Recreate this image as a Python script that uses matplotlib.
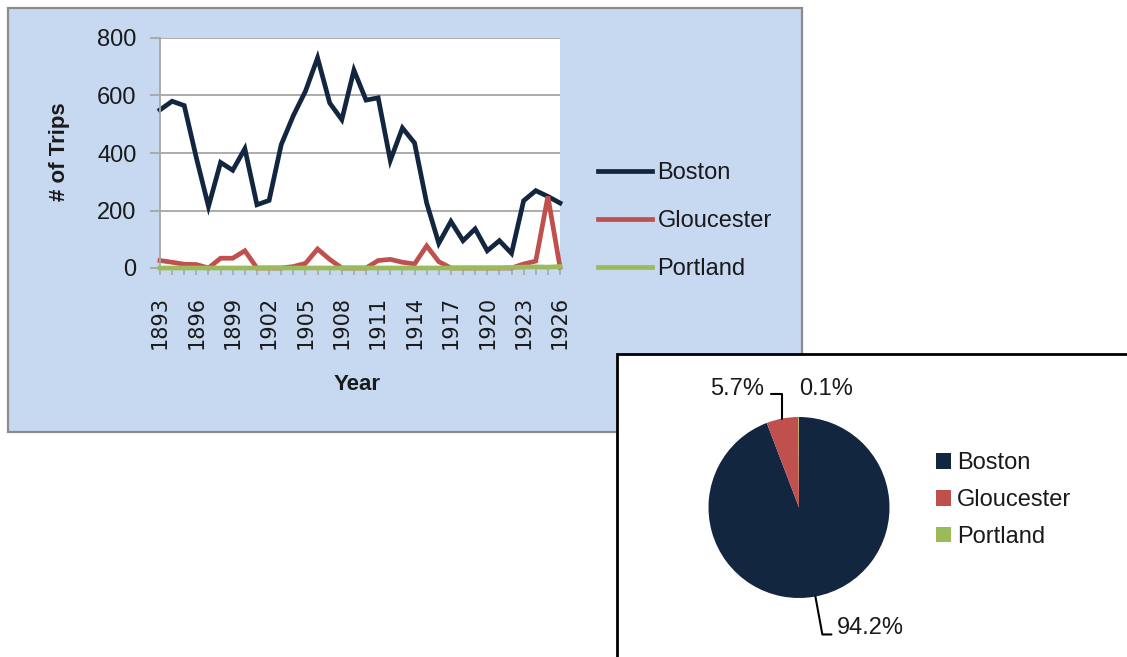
import numpy as np
import matplotlib.pyplot as plt
from matplotlib.patches import Rectangle, Patch

W, H = 1127, 657

years = list(range(1893, 1927))
boston = [550, 580, 565, 383, 214, 367, 340, 415, 220, 235, 429, 530, 615, 731, 574, 516, 688,
          584, 592, 374, 487, 435, 226, 86, 162, 95, 136, 60, 95, 51, 234, 269, 249, 226]
gloucester = [26, 20, 13, 12, 0, 34, 34, 60, 0, 0, 0, 5, 16, 66, 30, 0, 0,
              0, 26, 30, 20, 14, 77, 22, 0, 0, 0, 0, 0, 0, 14, 24, 249, 3]
portland = [0, 0, 0, 0, 0, 0, 0, 0, 0, 0, 0, 0, 0, 0, 0, 0, 0,
            0, 0, 0, 0, 0, 0, 0, 0, 0, 0, 0, 0, 2, 3, 4, 3, 5]
year_ticks = years[::3]

ports = ["Boston", "Gloucester", "Portland"]
share = [94.2, 5.7, 0.1]
colors = ["#12263F", "#C0504D", "#9BBB59"]

FONT = "Liberation Sans"
TXT = "#1a1a1a"


def box(x0, y0, x1, y1):
    # pixel box (top-left origin) -> figure fraction [left, bottom, width, height]
    return [x0 / W, 1 - y1 / H, (x1 - x0) / W, (y1 - y0) / H]


fig = plt.figure(figsize=(W / 100, H / 100), dpi=100)
fig.patch.set_facecolor("white")

# blue panel behind the line chart
b = box(8, 8, 802, 432)
fig.patches.append(Rectangle((b[0], b[1]), b[2], b[3], transform=fig.transFigure,
                             fc="#C6D9F1", ec="#8C8C8C", lw=1.6, zorder=-5))

ax = fig.add_axes(box(160, 38, 560, 268))
for i, (s, c) in enumerate(zip([boston, gloucester, portland], colors)):
    ax.plot(years, s, color=c, lw=3.4, clip_on=False, solid_joinstyle="miter", zorder=2 + i * 0.3)
ax.set_xlim(1893, 1926)
ax.set_ylim(0, 800)
ax.set_yticks([0, 200, 400, 600, 800])
ax.yaxis.grid(True, color="#A6A6A6", lw=1.3)
ax.set_axisbelow(True)
for sp in ["top", "right"]:
    ax.spines[sp].set_visible(False)
ax.spines["left"].set_color("#A6A6A6")
ax.spines["bottom"].set_color("#A6A6A6")
ax.spines["left"].set_linewidth(1.3)
ax.spines["bottom"].set_zorder(1.5)
ax.tick_params(axis="y", length=7, width=1.3, color="#A6A6A6", pad=10,
               labelsize=17, labelcolor=TXT)
for t in ax.get_yticklabels():
    t.set_fontfamily(FONT)
ax.set_xticks(years, minor=True)
ax.set_xticks(year_ticks)
ax.set_xticklabels([str(y) for y in year_ticks], rotation=90, fontsize=15,
                   color=TXT, family="DejaVu Sans")
ax.tick_params(axis="x", which="both", length=5, width=1.1, color="#A6A6A6", pad=15)
ax.set_ylabel("# of Trips", fontsize=16, fontweight="bold", family=FONT, color=TXT)
ax.yaxis.set_label_coords(-(160 - 70) / 400, (268 - 152) / 230)
ax.set_xlabel("Year", fontsize=16, fontweight="bold", family=FONT, color=TXT)
ax.xaxis.set_label_coords((357 - 160) / 400, -(374 - 268) / 230)

ax.legend(ports, loc="center left", bbox_to_anchor=(598 / W, 1 - 221 / H),
          bbox_transform=fig.transFigure, frameon=False, borderpad=0, borderaxespad=0,
          handlelength=2.3, handletextpad=0.22, labelspacing=1.1,
          prop={"family": FONT, "size": 17}, labelcolor=TXT)

# white pie panel on top
p = box(617, 354, 1140, 670)
fig.patches.append(Rectangle((p[0], p[1]), p[2], p[3], transform=fig.transFigure,
                             fc="white", ec="black", lw=2, zorder=1))

cx, cy, r = 799, 507.5, 90.5
x0, x1, y0, y1 = 705, 895, 410, 605
pax = fig.add_axes(box(x0, y0, x1, y1), zorder=2)
wedges, _ = pax.pie(share, colors=colors, startangle=90, counterclock=False,
                    wedgeprops={"linewidth": 0})
pax.set_xlim((x0 - cx) / r, (x1 - cx) / r)
pax.set_ylim((cy - y1) / r, (cy - y0) / r)
pax.set_axis_off()

# labels with leader lines at the wedge mid angles
mids = [np.deg2rad((w.theta1 + w.theta2) / 2) for w in wedges]
edge = [(np.cos(m), np.sin(m)) for m in mids]
pax.annotate(f"{share[1]:.1f}%", xy=edge[1], xytext=(-0.39, 1.31), ha="right", va="center",
             fontsize=17, family=FONT, color=TXT,
             arrowprops=dict(arrowstyle="-", color="black", lw=1.5, shrinkA=3, shrinkB=0,
                             relpos=(1, 0.25), connectionstyle="angle,angleA=0,angleB=90,rad=0"))
pax.text(0.0, 1.31, f"{share[2]:.1f}%", ha="left", va="center", fontsize=17,
         family=FONT, color=TXT)
pax.annotate(f"{share[0]:.1f}%", xy=edge[0], xytext=(0.42, -1.33), ha="left", va="center",
             fontsize=17, family=FONT, color=TXT,
             arrowprops=dict(arrowstyle="-", color="black", lw=1.5, shrinkA=2, shrinkB=0,
                             relpos=(0, 0.2),
                             connectionstyle=f"angle,angleA=180,angleB={np.rad2deg(mids[0]) + 180:.1f},rad=0"))

handles = [Patch(fc=c, ec="none") for c in colors]
pax.legend(handles, ports, loc="center left", bbox_to_anchor=(936 / W, 1 - 500 / H),
           bbox_transform=fig.transFigure, frameon=False, borderpad=0, borderaxespad=0,
           handlelength=0.65, handleheight=0.65, handletextpad=0.25, labelspacing=0.63,
           prop={"family": FONT, "size": 17}, labelcolor=TXT)

fig.savefig("out.png", dpi=100)
